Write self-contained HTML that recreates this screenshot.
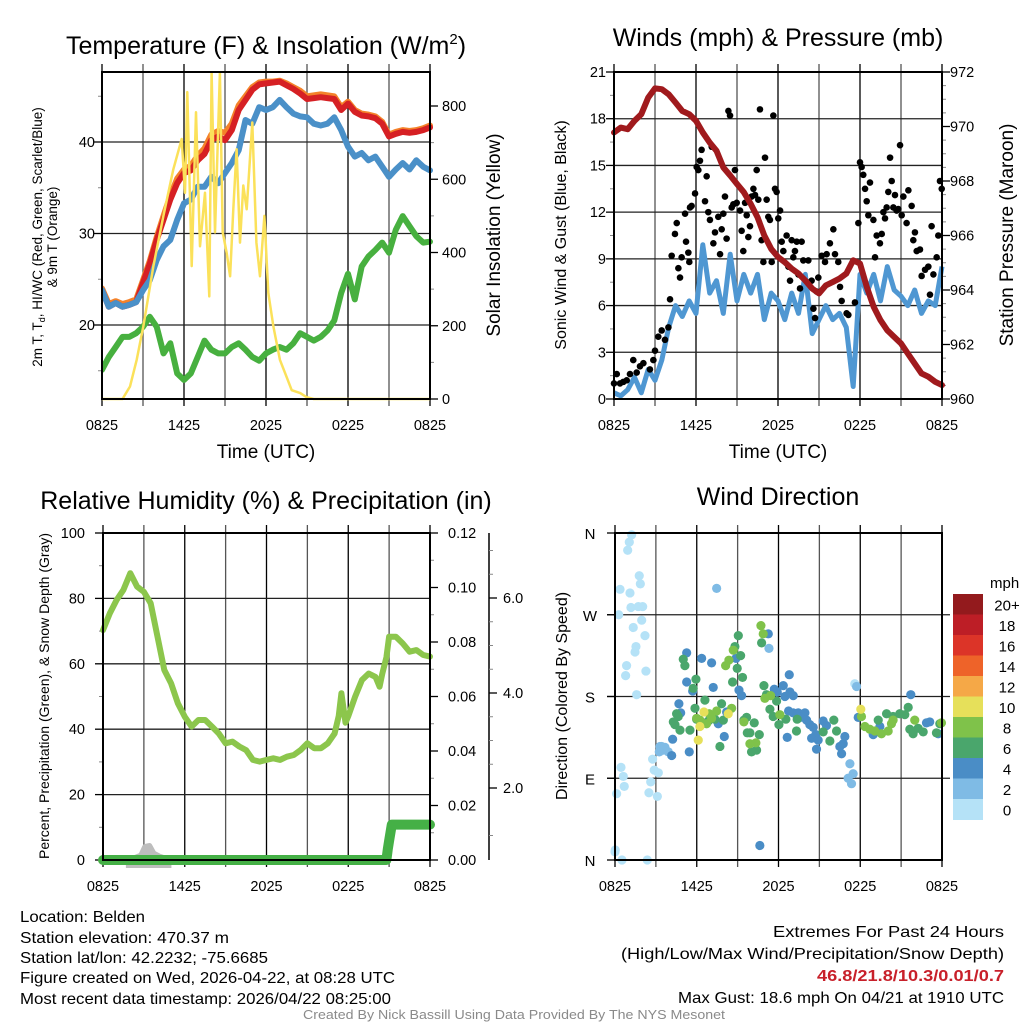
<!DOCTYPE html>
<html><head><meta charset="utf-8">
<style>
html,body{margin:0;padding:0;background:#fff;}
svg{display:block;font-family:"Liberation Sans",sans-serif;}
</style></head>
<body>
<svg id="fig" width="1024" height="1024" viewBox="0 0 1024 1024" xmlns="http://www.w3.org/2000/svg">
<rect width="1024" height="1024" fill="#fff"/>
<g id="p1"></g>
<g id="p2"></g>
<g id="p3"></g>
<g id="p4"></g>

<text x="266" y="54" font-size="25" text-anchor="middle">Temperature (F) &amp; Insolation (W/m<tspan font-size="15" dy="-10">2</tspan><tspan dy="10">)</tspan></text>
<text x="778" y="46" font-size="25" text-anchor="middle">Winds (mph) &amp; Pressure (mb)</text>
<text x="266" y="509" font-size="25" text-anchor="middle">Relative Humidity (%) &amp; Precipitation (in)</text>
<text x="778" y="505" font-size="25" text-anchor="middle">Wind Direction</text>

<text x="266" y="458" font-size="19" text-anchor="middle">Time (UTC)</text>
<text x="778" y="458" font-size="19" text-anchor="middle">Time (UTC)</text>

<text transform="translate(42,237) rotate(-90)" font-size="13.5" text-anchor="middle">2m T, T<tspan font-size="9" dy="3">d</tspan><tspan dy="-3">, HI/WC (Red, Green, Scarlet/Blue)</tspan></text>
<text transform="translate(57,237) rotate(-90)" font-size="13.5" text-anchor="middle">&amp; 9m T (Orange)</text>
<text transform="translate(500,235) rotate(-90)" font-size="19" text-anchor="middle">Solar Insolation (Yellow)</text>
<text transform="translate(566,235) rotate(-90)" font-size="16" text-anchor="middle">Sonic Wind &amp; Gust (Blue, Black)</text>
<text transform="translate(1013,235) rotate(-90)" font-size="19" text-anchor="middle">Station Pressure (Maroon)</text>
<text transform="translate(49,696) rotate(-90)" font-size="14" text-anchor="middle">Percent, Precipitation (Green), &amp; Snow Depth (Gray)</text>
<text transform="translate(567,696) rotate(-90)" font-size="16" text-anchor="middle">Direction (Colored By Speed)</text>

<g font-size="16">
<text x="20" y="922" textLength="125" lengthAdjust="spacingAndGlyphs">Location: Belden</text>
<text x="20" y="943" textLength="209" lengthAdjust="spacingAndGlyphs">Station elevation: 470.37 m</text>
<text x="20" y="963" textLength="248" lengthAdjust="spacingAndGlyphs">Station lat/lon: 42.2232; -75.6685</text>
<text x="20" y="983" textLength="375" lengthAdjust="spacingAndGlyphs">Figure created on Wed, 2026-04-22, at 08:28 UTC</text>
<text x="20" y="1004" textLength="371" lengthAdjust="spacingAndGlyphs">Most recent data timestamp: 2026/04/22 08:25:00</text>
</g>
<g font-size="16">
<text x="773" y="937" textLength="231" lengthAdjust="spacingAndGlyphs">Extremes For Past 24 Hours</text>
<text x="621" y="959" textLength="383" lengthAdjust="spacingAndGlyphs">(High/Low/Max Wind/Precipitation/Snow Depth)</text>
<text x="817" y="981" textLength="187" lengthAdjust="spacingAndGlyphs" font-weight="bold" fill="#c8202a">46.8/21.8/10.3/0.01/0.7</text>
<text x="678" y="1003" textLength="326" lengthAdjust="spacingAndGlyphs">Max Gust: 18.6 mph On 04/21 at 1910 UTC</text>
</g>
<text x="303" y="1019" font-size="13" fill="#8a8a8a" textLength="422" lengthAdjust="spacingAndGlyphs">Created By Nick Bassill Using Data Provided By The NYS Mesonet</text>
</svg>
<script>
// ---------- shared time axis ----------
const timeTickLabels = ["0825","1425","2025","0225","0825"];
// ---------- Temperature panel data (hours since 0825) ----------
const tempHours = [0,0.5,1,1.5,2,2.5,3,3.5,4,4.5,5,5.5,6,6.5,7,7.5,8,8.5,9,9.5,10,10.5,11,11.5,12,12.5,13,13.5,14,14.5,15,15.5,16,16.5,17,17.5,18,18.5,19,19.5,20,20.5,21,21.5,22,22.5,23,23.5,24];
const tempRed = [23.8,22.0,22.4,22.0,22.2,22.5,24.6,26.7,29.3,31.5,33.7,35.5,36.6,36.9,38.0,38.7,40.2,40.6,40.2,41.3,43.5,44.6,45.7,46.3,46.4,46.5,46.6,46.2,45.8,45.3,44.7,44.8,44.9,44.8,44.7,43.5,44.2,43.3,42.9,42.8,42.6,42.0,40.6,40.9,41.1,41.0,41.1,41.3,41.6];
const tempOrange = [24.0,22.3,22.6,22.3,22.5,22.8,24.9,27.0,29.6,31.9,34.1,36.0,37.0,37.4,38.5,39.3,40.8,41.2,41.0,42.0,44.0,45.0,46.0,46.5,46.6,46.6,46.7,46.4,46.0,45.6,45.0,45.1,45.2,45.1,45.0,43.8,44.4,43.5,43.1,43.0,42.8,42.2,40.8,41.1,41.3,41.2,41.3,41.5,41.8];
const tempBlue = [23.8,22.0,22.4,22.0,22.2,22.5,23.8,24.9,27.1,28.6,29.3,31.5,33.3,33.7,35.1,35.1,36.2,35.5,36.6,37.7,39.1,42.4,42.0,43.8,43.5,43.8,44.6,43.8,43.1,42.8,42.7,42.0,41.8,42.0,42.7,41.3,39.5,38.4,38.8,38.0,38.4,37.3,36.2,37.0,37.7,37.0,38.0,37.3,36.9];
const tempGreen = [15.1,16.5,17.6,18.7,18.7,19.1,19.8,20.9,19.8,16.9,18.0,14.7,14.0,14.7,16.5,18.3,17.3,16.9,16.9,17.6,18.0,17.3,16.5,16.1,16.9,17.3,17.6,17.3,18.0,19.1,18.7,18.3,18.7,19.4,20.5,23.5,25.6,22.8,26.4,27.5,28.2,29.0,27.9,30.4,31.9,30.8,29.7,29.0,29.1];
const solarHours = [0,1.5,2.05,2.54,3.02,3.76,4.49,5.22,5.83,6.07,6.24,6.56,6.88,7.17,7.54,7.85,8.02,8.27,8.63,8.83,9.12,9.37,9.61,9.85,10.1,10.34,10.59,11.0,11.3,11.56,11.88,12.17,12.54,13.02,13.5,13.88,14.5,14.98,15.5,24];
const solarValues = [0,0,34,107,198,363,500,627,710,563,838,363,783,417,563,280,892,455,892,455,400,335,518,682,427,583,518,755,427,335,500,290,198,107,61,24,16,5,0,0];
const tempTicks = [20,30,40];
const solarTicks = [0,200,400,600,800];

// ---------- Winds panel data ----------
const windHours = [0,0.5,1,1.5,2,2.5,3,3.5,4,4.5,5,5.5,6,6.5,7,7.5,8,8.5,9,9.5,10,10.5,11,11.5,12,12.5,13,13.5,14,14.5,15,15.5,16,16.5,17,17.5,18,18.5,19,19.5,20,20.5,21,21.5,22,22.5,23,23.5,24];
const windSpeed = [0.4,0.2,0.6,1.4,0.4,1.9,1.2,2.5,4.6,6.0,5.3,6.3,5.5,9.9,6.8,7.6,5.5,9.3,6.3,8.0,6.8,8.0,5.1,6.8,6.3,5.1,6.8,5.5,8.0,4.2,5.1,6.0,5.1,5.5,4.6,0.8,8.0,6.8,8.0,6.3,8.5,7.0,6.6,6.0,7.0,5.5,6.3,6.0,8.5];
const pressHours = [0,0.5,1,1.5,2,2.5,3,3.5,4,4.5,5,5.5,6,6.5,7,7.5,8,8.5,9,9.5,10,10.5,11,11.5,12,12.5,13,13.5,14,14.5,15,15.5,16,16.5,17,17.5,18,18.5,19,19.5,20,20.5,21,21.5,22,22.5,23,23.5,24];
const pressure = [969.78,969.96,969.9,970.21,970.45,971.06,971.4,971.37,971.18,970.88,970.57,970.45,970.21,969.78,969.41,969.11,968.5,968.2,967.89,967.59,967.16,966.67,966.0,965.51,965.21,965.02,964.78,964.6,964.35,964.05,963.87,964.17,964.29,964.42,964.6,965.09,964.97,964.11,963.38,962.89,962.52,962.28,962.04,961.67,961.3,960.94,960.82,960.63,960.51];
const gustHours = [0,0.2,0.44,0.68,0.93,1.17,1.41,1.66,1.9,2.15,2.63,2.88,3.0,3.24,3.49,3.73,3.98,4.1,4.22,4.46,4.59,4.71,4.83,4.95,5.2,5.27,5.44,5.51,5.56,5.68,5.93,6.05,6.17,6.29,6.41,6.66,6.78,6.9,7.02,7.15,7.27,7.39,7.63,7.76,7.88,8.0,8.12,8.24,8.37,8.49,8.61,8.73,8.85,8.98,9.22,9.34,9.46,9.59,9.71,9.83,9.95,10.07,10.2,10.32,10.44,10.56,10.68,10.8,10.93,11.05,11.17,11.29,11.41,11.54,11.66,11.78,11.9,12.02,12.15,12.27,12.39,12.63,12.76,12.88,13.0,13.12,13.24,13.37,13.49,13.61,13.73,13.85,14.22,14.46,14.59,14.71,14.83,14.95,15.2,15.44,15.56,15.8,16.05,16.17,16.41,16.54,16.66,17.02,17.15,17.63,17.88,18.0,18.12,18.24,18.37,18.49,18.61,18.73,18.98,19.1,19.22,19.46,19.59,19.71,19.83,19.95,20.07,20.2,20.32,20.44,20.56,20.68,20.8,20.93,21.05,21.17,21.41,21.54,21.78,21.9,22.02,22.15,22.39,22.51,22.76,23.0,23.12,23.24,23.37,23.61,23.73,23.85,23.98];
const gustSpeed = [1.0,1.6,1.0,1.1,1.2,1.6,2.5,1.7,2.1,2.3,1.9,2.5,3.1,4.0,4.4,3.8,4.6,6.4,9.2,10.6,11.3,8.4,7.8,9.1,11.9,10.1,9.4,8.8,12.3,12.4,13.2,14.9,14.7,15.3,16.0,12.7,14.3,12.0,11.5,16.2,10.0,10.7,11.7,9.3,10.9,11.9,13.0,10.3,18.5,18.2,12.3,12.5,14.7,12.6,12.1,10.8,9.5,12.6,11.8,10.4,11.1,13.0,13.5,13.1,14.7,12.8,18.6,10.2,8.8,15.5,12.8,11.7,11.5,8.8,18.2,13.5,13.3,11.6,12.1,10.1,9.5,10.5,8.5,7.6,10.2,9.1,9.5,10.1,8.0,7.1,10.1,8.9,8.9,7.6,5.8,5.2,6.9,7.8,9.2,8.8,9.3,10.0,10.9,9.3,8.8,7.2,6.3,5.5,5.4,6.2,11.3,15.2,14.9,14.4,13.5,12.7,11.8,13.9,11.5,9.1,10.5,10.0,10.6,12.0,11.6,12.3,13.3,15.5,14.0,12.3,13.1,12.1,12.2,16.3,11.8,13.0,11.3,13.4,12.4,10.2,10.7,9.5,9.6,7.9,8.3,8.5,6.7,11.1,8.0,9.1,10.5,14.0,13.5];
const windTicks = [0,3,6,9,12,15,18,21];
const pressTicks = [960,962,964,966,968,970,972];

// ---------- Humidity panel data ----------
const rhHours = [0,0.5,1,1.5,2,2.5,3,3.5,4,4.5,5,5.5,6,6.5,7,7.5,8,8.5,9,9.5,10,10.5,11,11.5,12,12.5,13,13.5,14,14.5,15,15.5,16,16.5,17,17.3,17.5,17.8,18,18.5,19,19.5,20,20.3,20.5,20.8,21,21.5,22,22.5,23,23.5,24];
const rhValues = [70.3,75.4,79.5,82.6,87.7,83.6,82.0,78.5,68.3,58.1,54.0,47.9,43.8,40.8,42.8,42.8,40.8,38.7,35.7,36.2,34.7,33.6,30.6,30.1,30.6,31.1,30.6,31.6,32.1,33.6,35.7,34.2,34.2,35.7,38.7,44,51,42,44,49.9,55,57,56,53,57,62,68.3,68.3,66.2,63.7,64.2,62.7,62.2];
const precipHours = [0,20.8,20.9,21.0,21.2,24];
const precipValues = [0,0,0.004,0.007,0.013,0.013];
const snowHours = [1.9,2.3,2.8,3.1,3.4,3.7,4.1,4.5,4.8];
const snowValues = [0.45,0.52,0.58,0.76,0.78,0.62,0.56,0.52,0.45];
const rhTicks = [0,20,40,60,80,100];
const precipTicks = [0,0.02,0.04,0.06,0.08,0.10,0.12];
const snowTicks = [2,4,6];

// ---------- Wind direction data ----------
const dirHours = [1.22,1.05,0.93,0.37,1.1,1.17,1.71,2.03,1.78,1.86,0.27,1.96,1.34,1.54,1.47,2.2,0.85,0.78,2.27,1.59,0.44,0.61,0.68,0.12,2.49,2.62,3.11,2.76,2.88,3.18,0.02,0,0.51,2.37,17.6,
7.46,3.3,3.42,3.54,3.67,3.91,3.25,11.3,17.24,17.48,17.11,17.36,17.73,
4.16,4.23,4.69,4.82,5.26,5.26,5.45,5.7,6.36,7.09,7.21,7.58,8.02,8.19,8.88,9.1,9.29,10.63,11.25,11.69,11.91,12.35,12.47,12.79,12.84,13.08,12.64,12.74,13.08,13.45,13.94,13.62,14.06,14.3,14.55,14.43,14.74,14.91,15.28,15.52,14.79,16.5,16.63,16.87,16.75,17.85,18.95,19.44,21.71,22.86,23.1,23.72,
4.28,4.4,4.52,4.64,4.77,5.01,5.13,5.5,5.74,5.87,5.94,5.99,6.6,6.85,7.33,7.7,7.82,7.95,8.63,8.8,8.97,9.05,9.22,9.36,9.46,9.66,9.71,9.9,10.02,10.22,10.39,10.59,10.76,10.93,11.12,11.37,11.61,11.86,12.03,12.54,13.32,13.37,15.28,15.77,16.06,16.26,19.32,19.93,20.41,20.9,21.27,21.52,21.64,21.88,22.25,22.62,23.59,23.84,
5.99,6.23,6.72,6.92,7.09,7.46,8.12,8.36,8.68,8.56,9.46,9.9,10.34,10.71,10.88,11.0,11.42,12.1,18.09,18.34,18.7,19.07,19.56,20.05,20.29,20.41,22.0,23.96,
6.11,6.23,6.53,8.31,18.04];
const dirDegrees = [358,350,341,298,294,278,279,279,313,304,270,264,256,235,229,247,214,203,208,182,102,92,81,73,74,86,70,111,99,96,11,9,0,0,194,
299,125,125,121,124,119,119,233,106,95,90,84,191,
115,133,172,162,196,228,119,186,222,217,190,150,136,163,222,187,181,16,249,188,185,192,180,204,185,181,135,164,162,162,162,157,154,149,146,134,138,132,153,148,122,125,117,136,128,157,138,147,182,151,152,139,
152,149,161,158,143,221,214,143,189,167,199,155,176,153,155,125,172,154,196,235,211,247,225,201,154,157,140,140,119,151,121,138,239,192,182,166,158,175,149,155,142,155,141,131,154,142,154,161,158,161,160,168,144,139,145,141,140,150,
156,154,150,161,156,164,214,220,231,167,152,128,129,258,249,178,181,160,158,147,144,142,139,142,150,154,154,151,
132,147,163,161,166];
const dirSpeeds = [1,1,1,1,1,1,1,1,1,1,1,1,1,1,1,1,1,1,1,1,1,1,1,1,1,1,1,1,1,1,1,1,1,1,1,
3,3,3,3,3,3,3,3,3,3,3,3,3,
5,5,5,5,5,5,5,5,5,5,5,5,5,5,5,5,5,5,5,5,5,5,5,5,5,5,5,5,5,5,5,5,5,5,5,5,5,5,5,5,5,5,5,5,5,5,5,5,5,5,5,5,
7,7,7,7,7,7,7,7,7,7,7,7,7,7,7,7,7,7,7,7,7,7,7,7,7,7,7,7,7,7,7,7,7,7,7,7,7,7,7,7,7,7,7,7,7,7,7,7,7,7,7,7,7,7,7,7,7,7,
9,9,9,9,9,9,9,9,9,9,9,9,9,9,9,9,9,9,9,9,9,9,9,9,9,9,9,9,
11,11,11,11,11];
const dirTickLabels = ["N","E","S","W","N"];
const dirTicks = [0,90,180,270,360];
const speedBinLabels = ["0","2","4","6","8","10","12","14","16","18","20+"];
const speedBinColors = ["#b5e2f7","#7fbbe5","#4a8dc6","#4aa66c","#7fc24a","#e6e05a","#f5a847","#ee6329","#dc3428","#bd1e26","#931a1d"];

// ---------- helpers ----------
const NS = "http://www.w3.org/2000/svg";
function mk(parent, tag, attrs){ const e=document.createElementNS(NS,tag); for(const k in attrs) e.setAttribute(k,attrs[k]); parent.appendChild(e); return e; }
function lin(d0,d1,r0,r1){ return v => r0 + (v-d0)/(d1-d0)*(r1-r0); }
function pathFrom(xs, ys, fx, fy){ return xs.map((x,i)=>(i?"L":"M")+fx(x).toFixed(1)+","+fy(ys[i]).toFixed(1)).join(""); }

function frame(g, L, T, R, B, xs){
  for(let h=0; h<=24; h+=3){
    const x = xs(h);
    const gl = mk(g,"line",{x1:x,y1:T-8,x2:x,y2:B+7,stroke:(h%6===0?"#000":"#555"),"stroke-width":1.3});
    
    
  }
  timeTickLabels.forEach((lab,i)=>{
    const t = mk(g,"text",{x:xs(i*6),y:B+31,"font-size":14.5,"text-anchor":"middle"});
    t.textContent = lab;
    
    
  });
}
function box(g,L,T,R,B){
  const r = mk(g,"rect",{x:L,y:T,width:R-L,height:B-T,fill:"none",stroke:"#000","stroke-width":2});
  
  
}
function hgrid(g,L,R,y){
  const l = mk(g,"line",{x1:L,y1:y,x2:R,y2:y,stroke:"#222","stroke-width":1.3});
  
  
}
function ytick(g,x,y,dir,label,anchor,lx,fs){
  const l = mk(g,"line",{x1:x,y1:y,x2:x+dir*8,y2:y,stroke:"#000","stroke-width":1.3});
  
  
  if(label!==null){
    const t = mk(g,"text",{x:lx,y:y+5,"font-size":fs||14.5,"text-anchor":anchor});
    t.textContent = label;
    
    
  }
}
function minor(g,x,y,dir){
  const l = mk(g,"line",{x1:x,y1:y,x2:x+dir*4,y2:y,stroke:"#888","stroke-width":1});
  
  
}

// ---------- Panel 1 ----------
(function(){
  const g = document.getElementById("p1");
  const L=102,T=72,R=430,B=399;
  const xs = lin(0,24,L,R), yt = lin(20,40,325,142), ys = lin(0,800,399,106);
  frame(g,L,T,R,B,xs);
  tempTicks.forEach(v=>{ hgrid(g,L,R,yt(v)); ytick(g,L,yt(v),-1,String(v),"end",95); });
  [15,25,35,45].forEach(v=>minor(g,L,yt(v),-1));
  solarTicks.forEach(v=>ytick(g,R,ys(v),1,String(v),"start",442));
  [100,300,500,700].forEach(v=>minor(g,R,ys(v),1));
  const cg = mk(g,"g",{"clip-path":"url(#c1)"});
  mk(mk(g,"clipPath",{id:"c1"}),"rect",{x:L,y:T-4,width:R-L+4,height:B-T+8});
  const series = [[tempOrange,"#f4822a","temp-9m-line"],[tempRed,"#d62024","temp-2m-line"],[tempBlue,"#4a90c8","heat-index-windchill-line"],[tempGreen,"#47b03f","dewpoint-line"]];
  series.forEach(s=>{
    const p = mk(cg,"path",{d:pathFrom(tempHours,s[0],xs,yt),fill:"none",stroke:s[1],"stroke-width":6,"stroke-linejoin":"round","stroke-linecap":"round"});
    
    
  });
  const sol = mk(cg,"path",{d:pathFrom(solarHours,solarValues,xs,ys),fill:"none",stroke:"#fbe15a","stroke-width":2.5,"stroke-linejoin":"round"});
  
  
  box(g,L,T,R,B);
})();

// ---------- Panel 2 ----------
(function(){
  const g = document.getElementById("p2");
  const L=614,T=72,R=942,B=399;
  const xs = lin(0,24,L,R), yw = lin(0,21,399,72), yp = lin(960,972,399,72);
  frame(g,L,T,R,B,xs);
  windTicks.forEach(v=>{ if(v>0&&v<21) hgrid(g,L,R,yw(v)); ytick(g,L,yw(v),-1,String(v),"end",606); });
  windTicks.slice(0,-1).forEach(v=>minor(g,L,yw(v+1.5),-1));
  pressTicks.forEach(v=>ytick(g,R,yp(v),1,String(v),"start",950));
  pressTicks.slice(0,-1).forEach(v=>{minor(g,R,yp(v+0.5),1);minor(g,R,yp(v+1),1);minor(g,R,yp(v+1.5),1);});
  const bl = mk(g,"path",{d:pathFrom(windHours,windSpeed,xs,yw),fill:"none",stroke:"#4f97d2","stroke-width":5,"stroke-linejoin":"round"});
  
  
  gustHours.forEach((h,i)=>{
    const c = mk(g,"circle",{cx:xs(h),cy:yw(gustSpeed[i]),r:3.3,fill:"#000"});
    
    
  });
  const pr = mk(g,"path",{d:pathFrom(pressHours,pressure,xs,yp),fill:"none",stroke:"#a01a1d","stroke-width":6,"stroke-linejoin":"round","stroke-linecap":"round"});
  
  
  box(g,L,T,R,B);
})();

// ---------- Panel 3 ----------
(function(){
  const g = document.getElementById("p3");
  const L=103,T=533,R=430,B=860;
  const xs = lin(0,24,L,R), yr = lin(0,100,860,533), yq = lin(0,0.12,860,533), ysn = lin(0,2,883,788);
  frame(g,L,T,R,B,xs);
  rhTicks.forEach(v=>{ if(v>0&&v<100) hgrid(g,L,R,yr(v)); ytick(g,L,yr(v),-1,String(v),"end",85); });
  [10,30,50,70,90].forEach(v=>minor(g,L,yr(v),-1));
  precipTicks.forEach(v=>ytick(g,R,yq(v),1,v.toFixed(2),"start",448));
  [0.01,0.03,0.05,0.07,0.09,0.11].forEach(v=>minor(g,R,yq(v),1));
  const ax = mk(g,"line",{x1:489,y1:533,x2:489,y2:860,stroke:"#000","stroke-width":1.5});
  
  
  snowTicks.forEach(v=>ytick(g,489,ysn(v),1,v.toFixed(1),"start",503));
  [1,3,5,7].forEach(v=>minor(g,489,ysn(v),1));
  [2.5,3.5,4.5,5.5,6.5].forEach(v=>minor(g,489,ysn(v),1));
  const cg = mk(g,"g",{"clip-path":"url(#c3)"});
  mk(mk(g,"clipPath",{id:"c3"}),"rect",{x:L-8,y:T,width:R-L+16,height:B-T+8});
  const sn = mk(cg,"path",{d:pathFrom(snowHours,snowValues,xs,ysn)+"L"+xs(snowHours[snowHours.length-1])+",870L"+xs(snowHours[0])+",870Z",fill:"#bdbdbd",stroke:"#bdbdbd","stroke-width":6,"stroke-linejoin":"round"});
  
  
  const rh = mk(g,"path",{d:pathFrom(rhHours,rhValues,xs,yr),fill:"none",stroke:"#8cc64c","stroke-width":6,"stroke-linejoin":"round","stroke-linecap":"round"});
  
  
  const pp = mk(cg,"path",{d:pathFrom(precipHours,precipValues,xs,yq),fill:"none",stroke:"#45b046","stroke-width":10,"stroke-linejoin":"round","stroke-linecap":"round"});
  
  
  box(g,L,T,R,B);
})();

// ---------- Panel 4 ----------
(function(){
  const g = document.getElementById("p4");
  const L=615,T=533,R=942,B=860;
  const xs = lin(0,24,L,R), yd = lin(0,360,860,533);
  frame(g,L,T,R,B,xs);
  dirTicks.forEach((v,i)=>{ if(v>0&&v<360) hgrid(g,L-8,R+8,yd(v)); ytick(g,L,yd(v),-1,null);
    const t = mk(g,"text",{x:590,y:yd(v)+6,"font-size":15,"text-anchor":"middle"});
    t.textContent = dirTickLabels[i];
    
    
  });
  dirHours.forEach((h,i)=>{
    const bin = Math.min(10, Math.floor(dirSpeeds[i]/2));
    const c = mk(g,"circle",{cx:xs(h),cy:yd(dirDegrees[i]),r:4.6,fill:speedBinColors[bin]});
    
    
  });
  box(g,L,T,R,B);
  const top=594, h=20.5;
  const unit = mk(g,"text",{x:990,y:588,"font-size":15});
  unit.textContent = "mph";
  
  
  for(let k=0;k<speedBinColors.length;k++){
    const idx = speedBinColors.length-1-k;
    const r = mk(g,"rect",{x:953,y:top+k*h,width:30,height:h+0.5,fill:speedBinColors[idx]});
    
    
    const t = mk(g,"text",{x:1007,y:top+k*h+h/2+6,"font-size":15,"text-anchor":"middle"});
    t.textContent = speedBinLabels[idx];
    
    
  }
})();
</script>
</body></html>
